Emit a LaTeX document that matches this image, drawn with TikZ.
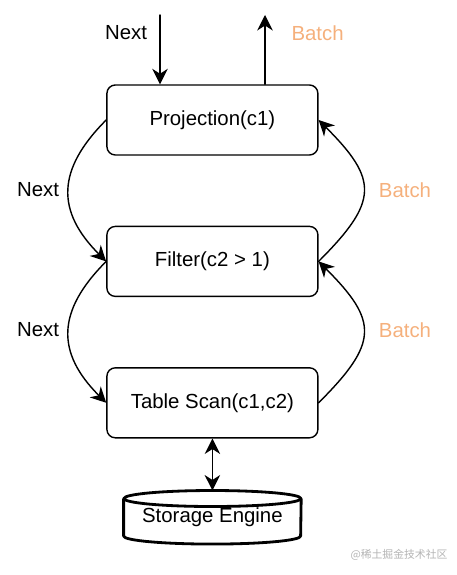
\documentclass[tikz,border=0pt]{standalone}
\usepackage{fontspec}
\setmainfont{Liberation Sans}
\newfontfamily\cjkfont{Noto Sans CJK SC}
\usepackage{xcolor}
\usetikzlibrary{positioning,arrows.meta}
\definecolor{ink}{HTML}{000000}
\definecolor{batchc}{HTML}{F5B07C}
\definecolor{wmgray}{HTML}{B4B4B4}
\tikzset{
  op/.style={draw=ink, line width=1pt, rounded corners=6pt,
    minimum width=5.275cm, minimum height=1.75cm,
    font=\fontsize{14.5}{17}\selectfont},
  flow/.style={draw=ink, line width=1pt, line cap=round,
    -{Stealth[length=11pt,width=11pt,inset=3.5pt]}},
  twoway/.style={draw=ink, line width=1pt,
    {Stealth[length=11pt,width=11pt,inset=3.5pt]}-{Stealth[length=11pt,width=11pt,inset=3.5pt]}},
  lbl/.style={font=\fontsize{14.5}{17}\selectfont, text=ink},
  blbl/.style={lbl, text=batchc},
  db/.style={minimum width=4.425cm, minimum height=1.325cm,
    font=\fontsize{14.5}{17}\selectfont},
  cyl/.style={draw=ink, line width=2pt, line join=round}
}
\begin{document}
\begin{tikzpicture}
  \useasboundingbox (0,0) rectangle (11.4,14.375);

  % operators
  \node[op] (proj) at (5.31,11.375) {Projection(c1)};
  \node[op, below=1.75cm of proj] (filt) {Filter(c2 > 1)};
  \node[op, below=1.75cm of filt] (scan) {Table Scan(c1,c2)};
  \node[db, below=1.3cm of scan] (store) {Storage Engine};

  % storage drum
  \draw[cyl] ([yshift=-0.2cm]store.north west) -- ([yshift=0.2cm]store.south west)
    arc[start angle=180, end angle=360, x radius=2.2125cm, y radius=0.2cm]
    -- ([yshift=-0.2cm]store.north east);
  \draw[cyl] ([yshift=-0.2cm]store.north) ellipse[x radius=2.2125cm, y radius=0.2cm];

  % in and out at the top
  \coordinate (nin) at (4.0,14.0);
  \coordinate (bout) at (6.625,14.0);
  \draw[flow] (nin) -- (nin |- proj.north);
  \draw[flow] (bout |- proj.north) -- (bout);
  \node[lbl] at (3.15,13.55) {Next};
  \node[blbl] at (7.94,13.55) {Batch};

  % next goes down, batch comes up
  \draw[flow] (proj.west) .. controls +(-1.25,-1.25) and +(-1.25,1.25) .. (filt.west);
  \draw[flow] (filt.west) .. controls +(-1.25,-1.25) and +(-1.25,1.25) .. (scan.west);
  \draw[flow] (filt.east) .. controls +(1.5,1.5) and +(1.5,-1.5) .. (proj.east);
  \draw[flow] (scan.east) .. controls +(1.5,1.5) and +(1.5,-1.5) .. (filt.east);
  \node[lbl] at (0.95,9.625) {Next};
  \node[lbl] at (0.95,6.125) {Next};
  \node[blbl] at (10.125,9.625) {Batch};
  \node[blbl] at (10.125,6.125) {Batch};

  \draw[twoway] (scan.south) -- (store.north);

  \node[text=wmgray, font=\cjkfont\fontsize{7.7}{9}\selectfont] at (9.975,0.5) {@稀土掘金技术社区};
\end{tikzpicture}
\end{document}
